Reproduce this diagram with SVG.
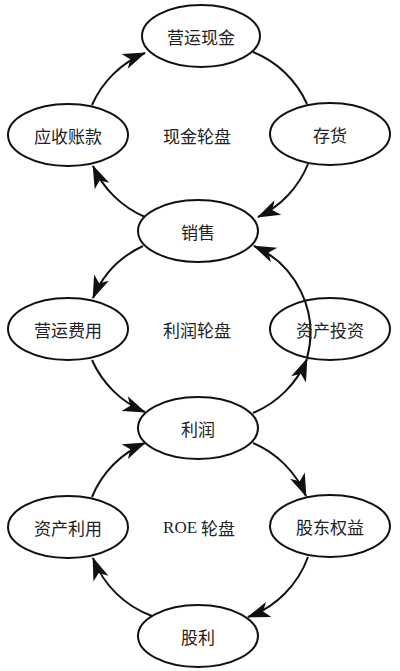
<svg xmlns="http://www.w3.org/2000/svg" width="400" height="671" viewBox="0 0 400 671">
<defs>
<style>
.node ellipse{fill:#fff;stroke:#111;stroke-width:2}
.lbl{font-family:"Noto Sans CJK SC","Noto Sans",sans-serif;font-size:17px;fill:#222;text-anchor:middle;dominant-baseline:central}
.ctr{font-family:"Noto Sans CJK SC","Noto Sans",sans-serif;font-size:17px;fill:#222;text-anchor:middle;dominant-baseline:central}
.roe{font-family:"Liberation Serif",serif}
#edges path{fill:none;stroke:#111;stroke-width:2}
.arr{marker-end:url(#stealth)}
</style>
<marker id="stealth" markerUnits="userSpaceOnUse" viewBox="-24 -10 26 20" refX="0" refY="0" markerWidth="26" markerHeight="20" orient="auto">
<path d="M1,0 L-22,-8 L-16,0 L-22,8 Z" fill="#111"/>
</marker>
</defs>
<rect width="400" height="671" fill="#fff"/>
<g id="edges">
<path class="arr" d="M92,105 A100,100 0 0 1 145,53"/>
<path d="M253,52 A100,100 0 0 1 307,104"/>
<path class="arr" d="M308,164 A100,100 0 0 1 258,217"/>
<path class="arr" d="M145,217 A100,100 0 0 1 93,166"/>
<path class="arr" d="M143,246 A100,100 0 0 0 93,298"/>
<path class="arr" d="M92,360 A100,100 0 0 0 145,412"/>
<path class="arr" d="M253,413 A100,100 0 0 0 307,359"/>
<path class="arr" d="M307,358 A95,95 0 0 0 254,246"/>
<path class="arr" d="M92,497 A100,100 0 0 1 145,443"/>
<path class="arr" d="M253,443 A100,100 0 0 1 306,496"/>
<path class="arr" d="M308,557 A100,100 0 0 1 248,617"/>
<path class="arr" d="M152,616 A100,100 0 0 1 93,558"/>
</g>
<g id="n-yingyunxianjin" class="node"><ellipse cx="201" cy="36" rx="59" ry="31"/><text class="lbl" x="201" y="36">营运现金</text></g>
<g id="n-yingshouzhangkuan" class="node"><ellipse cx="68" cy="135" rx="60" ry="31"/><text class="lbl" x="68" y="135">应收账款</text></g>
<g id="n-cunhuo" class="node"><ellipse cx="330" cy="134" rx="60" ry="31"/><text class="lbl" x="330" y="134">存货</text></g>
<g id="n-xiaoshou" class="node"><ellipse cx="198" cy="231" rx="60" ry="31"/><text class="lbl" x="198" y="231">销售</text></g>
<g id="n-yingyunfeiyong" class="node"><ellipse cx="68" cy="329" rx="60" ry="31"/><text class="lbl" x="68" y="329">营运费用</text></g>
<g id="n-zichantouzi" class="node"><ellipse cx="330" cy="329" rx="60" ry="31" style="fill:none"/><text class="lbl" x="330" y="329">资产投资</text></g>
<g id="n-lirun" class="node"><ellipse cx="198" cy="428" rx="60" ry="31"/><text class="lbl" x="198" y="428">利润</text></g>
<g id="n-zichanliyong" class="node"><ellipse cx="68" cy="527" rx="60" ry="31"/><text class="lbl" x="68" y="527">资产利用</text></g>
<g id="n-gudongquanyi" class="node"><ellipse cx="330" cy="526" rx="60" ry="31"/><text class="lbl" x="330" y="526">股东权益</text></g>
<g id="n-guli" class="node"><ellipse cx="198" cy="636" rx="60" ry="31"/><text class="lbl" x="198" y="636">股利</text></g>
<g id="labels">
<text class="ctr" x="197" y="135">现金轮盘</text>
<text class="ctr" x="197" y="329">利润轮盘</text>
<text class="ctr" x="199" y="527"><tspan class="roe">ROE</tspan> 轮盘</text>
</g>
</svg>
